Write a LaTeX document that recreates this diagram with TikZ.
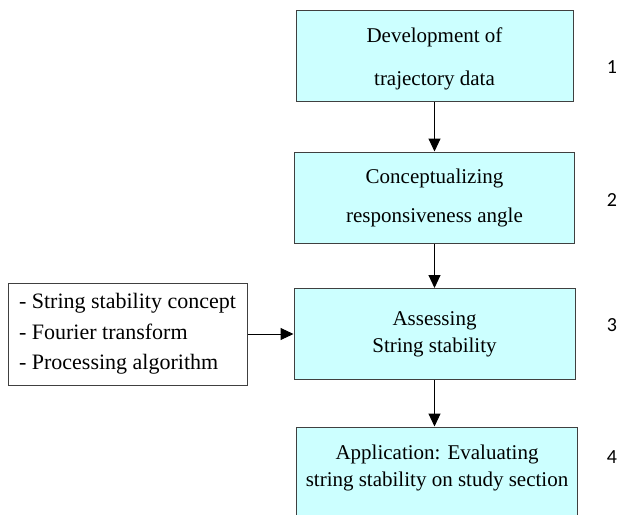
\documentclass[tikz,border=0pt]{standalone}
\usepackage{fontspec}
\setmainfont{Liberation Serif}
\newfontfamily\numfont{Carlito}
\usetikzlibrary{arrows.meta}
\definecolor{stagefill}{HTML}{CCFFFF}
\definecolor{boxline}{HTML}{404040}
\tikzset{
    stagetext/.style={align=center, inner sep=0pt,
    	font=\fontsize{21}{25}\selectfont}
}
\tikzset{
    stage/.style={stagetext, rectangle, draw=boxline, fill=stagefill,
    	line width=1pt, minimum width=280pt, minimum height=91pt}
}
\tikzset{
    inputs/.style={rectangle, draw=boxline, fill=white, line width=1pt,
    	minimum width=239pt, minimum height=102pt, inner sep=0pt,
    	align=left, font=\fontsize{22}{30.5}\selectfont}
}
\tikzset{
    stepno/.style={inner sep=0pt, font=\numfont\fontsize{20}{22}\selectfont}
}
\tikzset{
    every edge/.append style={line width=1pt,
    	-{Triangle[length=13pt,width=12pt]}}
}

\begin{document}
\begin{tikzpicture}[x=1pt,y=-1pt]
	\useasboundingbox (0,0) rectangle (618,514);
	\node (s1) [stage, minimum width=277pt] at (434.5,56) {\rule{0pt}{20pt}Development of\\[18pt]trajectory data};
	\node (s2) [stage] at (434.5,197.5) {Conceptualizing\\[14pt]responsiveness angle};
	\node (s3) [stage, minimum width=281pt] at (434.5,334) {Assessing\\[2pt]String stability};
	\node (s4) [stage, minimum width=281pt, minimum height=100pt] at (437,477) {};
	\node (s4text) [stagetext] at (437,467.5) {Application: Evaluating\\[2pt]string stability on study section};
	\node (tools) [inputs] at (127.5,334) {- String stability concept\\- Fourier transform\\- Processing algorithm};
	
	\node (n1) [stepno] at (612,67) {1};
	\node (n2) [stepno] at (612,200) {2};
	\node (n3) [stepno] at (612,325) {3};
	\node (n4) [stepno] at (612,457) {4};
	
	\draw (s1) edge (s2); \draw (s2) edge (s3);
	\draw (s3) edge (s3.south |- s4.north);
	\draw (tools) edge (s3);
\end{tikzpicture}
\end{document}
